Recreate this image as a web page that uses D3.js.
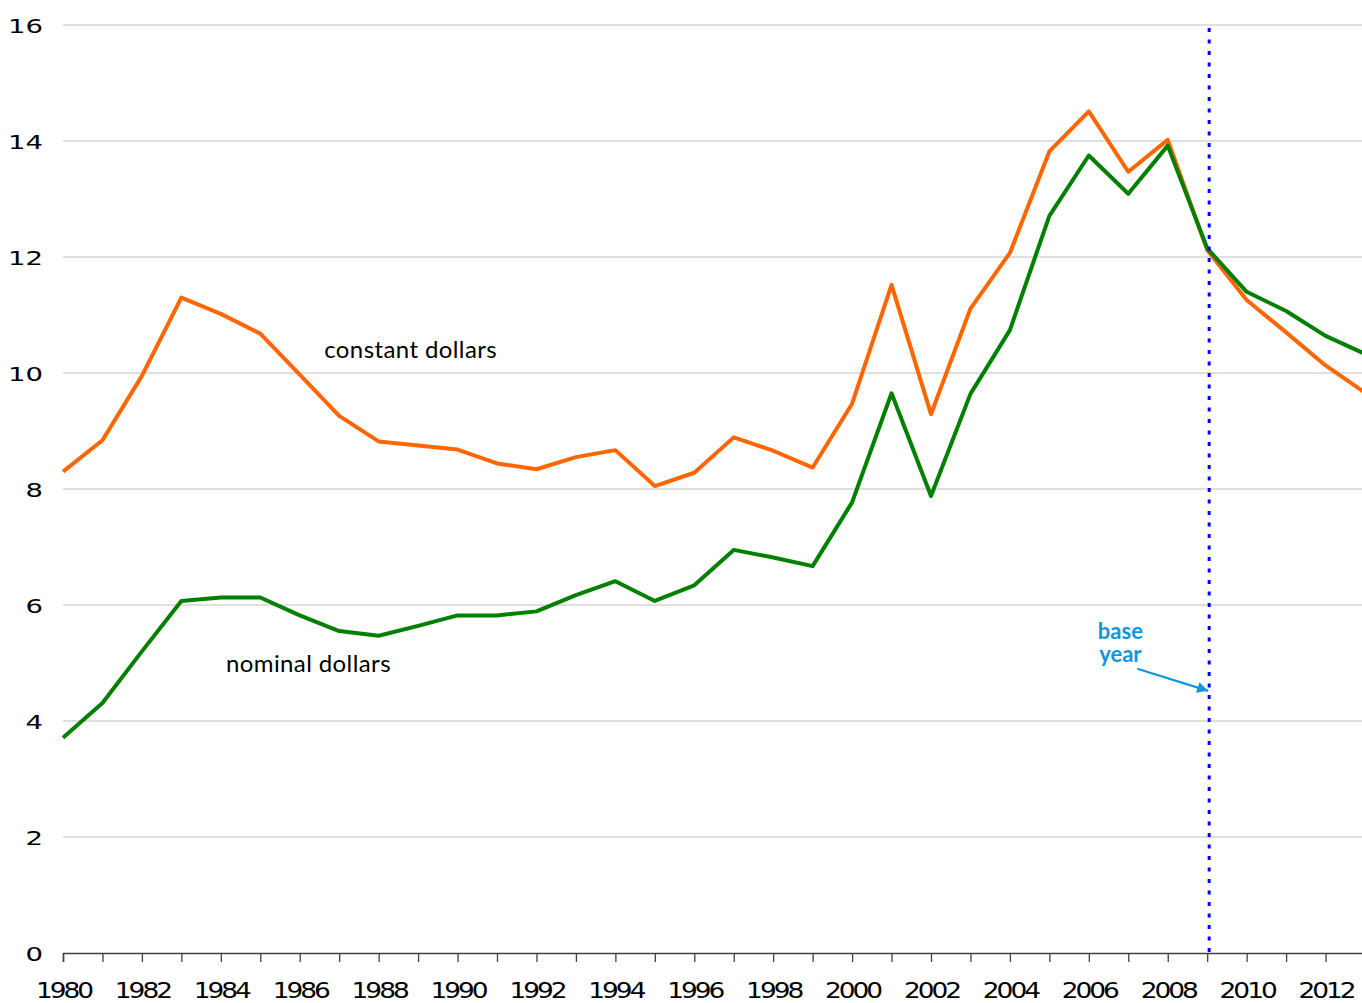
<!DOCTYPE html>
<html>
<head>
  <meta charset="utf-8">
  <title>Constant vs nominal dollars</title>
  <script src="https://d3js.org/d3.v7.min.js"></script>
  <style>
    body { margin: 0; background: #fff; }
    svg { display: block; }
  </style>
</head>
<body>
  <svg id="chart"></svg>
  <script>
    // values, one per year 1980..2013
    const years = d3.range(1980, 2014);
    const constantDollars = [8.30, 8.84, 9.95, 11.30, 11.02, 10.68, 9.97, 9.26, 8.82, 8.75,
                             8.68, 8.44, 8.34, 8.55, 8.67, 8.05, 8.28, 8.89, 8.66, 8.37,
                             9.47, 11.52, 9.29, 11.11, 12.07, 13.82, 14.51, 13.47, 14.02, 12.12,
                             11.26, 10.70, 10.13, 9.66];
    const nominalDollars = [3.71, 4.31, 5.20, 6.07, 6.13, 6.13, 5.82, 5.55, 5.47, 5.64,
                            5.82, 5.82, 5.89, 6.17, 6.41, 6.07, 6.34, 6.95, 6.82, 6.67,
                            7.77, 9.65, 7.88, 9.64, 10.74, 12.71, 13.75, 13.09, 13.92, 12.15,
                            11.40, 11.07, 10.64, 10.33];
    const yTicks = [0, 2, 4, 6, 8, 10, 12, 14, 16];
    const baseYear = 2009;

    const width = 1362, height = 1003;
    const svg = d3.select("#chart").attr("width", width).attr("height", height);

    const x = d3.scaleLinear().domain([1980, 2013]).range([63, 1365]);
    const y = d3.scaleLinear().domain([0, 16]).range([953, 25]);

    // gridlines
    svg.append("g")
      .selectAll("line")
      .data(yTicks.filter(d => d > 0))
      .enter().append("line")
      .attr("x1", x(1980)).attr("x2", width)
      .attr("y1", d => y(d)).attr("y2", d => y(d))
      .attr("stroke", "#d4d4d4").attr("stroke-width", 1.3);

    // y axis labels (the source font is very wide)
    const ySx = 1.45;
    const yAxis = svg.append("g")
      .attr("transform", `translate(${x(1980)},0)`)
      .call(d3.axisLeft(y).tickValues(yTicks).tickSize(0));
    yAxis.select(".domain").remove();
    yAxis.selectAll("text")
      .attr("font-family", "DejaVu Sans")
      .attr("font-size", 19)
      .attr("fill", "#000")
      .attr("transform", `scale(${ySx},1)`)
      .attr("x", -20 / ySx)
      .attr("dy", "0.42em");

    // x axis
    const xSx = 1.2;
    const xAxis = svg.append("g")
      .attr("transform", `translate(0,${y(0)})`)
      .call(d3.axisBottom(x).tickValues(years).tickSize(9)
        .tickFormat(d => d % 2 === 0 ? d : ""));
    xAxis.select(".domain").attr("stroke", "#404040").attr("stroke-width", 1.5);
    xAxis.selectAll(".tick line").attr("stroke", "#404040").attr("stroke-width", 1.3);
    xAxis.selectAll(".tick text")
      .attr("font-family", "DejaVu Sans")
      .attr("font-size", 22)
      .attr("letter-spacing", -2.5)
      .attr("fill", "#000")
      .attr("dy", null)
      .attr("y", 45)
      .attr("transform", `scale(${xSx},1)`);

    const line = d3.line().x((d, i) => x(years[i])).y(d => y(d));

    svg.append("path")
      .datum(constantDollars)
      .attr("fill", "none")
      .attr("stroke", "#ff6600")
      .attr("stroke-width", 4)
      .attr("stroke-linejoin", "round")
      .attr("d", line);

    svg.append("path")
      .datum(nominalDollars)
      .attr("fill", "none")
      .attr("stroke", "#008000")
      .attr("stroke-width", 4)
      .attr("stroke-linejoin", "round")
      .attr("d", line);

    // base year marker
    svg.append("line")
      .attr("x1", x(baseYear) + 2).attr("x2", x(baseYear) + 2)
      .attr("y1", y(15.95)).attr("y2", y(0))
      .attr("stroke", "#0000ff")
      .attr("stroke-width", 3)
      .attr("stroke-dasharray", "4,7.5");

    // series labels
    svg.append("text")
      .attr("x", x(1986.62)).attr("y", y(10.26))
      .attr("font-family", "Lato").attr("font-size", 24)
      .attr("letter-spacing", 0.4)
      .text("constant dollars");
    svg.append("text")
      .attr("x", x(1984.13)).attr("y", y(4.85))
      .attr("font-family", "Lato").attr("font-size", 24)
      .attr("letter-spacing", 0.4)
      .text("nominal dollars");

    // base year note
    const blue = "#1296db";
    svg.append("defs").append("marker")
      .attr("id", "arrow")
      .attr("viewBox", "0 0 10 10")
      .attr("refX", 10).attr("refY", 5)
      .attr("markerWidth", 5).attr("markerHeight", 5)
      .attr("markerUnits", "strokeWidth")
      .attr("orient", "auto")
      .append("path").attr("d", "M0,0L10,5L0,10Z").attr("fill", blue);

    const note = svg.append("text")
      .attr("font-family", "Lato").attr("font-weight", "bold")
      .attr("font-size", 22).attr("fill", blue)
      .attr("text-anchor", "middle");
    note.append("tspan").attr("x", x(2006.8)).attr("y", y(5.41)).text("base");
    note.append("tspan").attr("x", x(2006.8)).attr("y", y(5.02)).text("year");

    svg.append("line")
      .attr("x1", x(2007.23)).attr("y1", y(4.90))
      .attr("x2", x(2009) + 1).attr("y2", y(4.52))
      .attr("stroke", blue).attr("stroke-width", 2.2)
      .attr("marker-end", "url(#arrow)");
  </script>
</body>
</html>
